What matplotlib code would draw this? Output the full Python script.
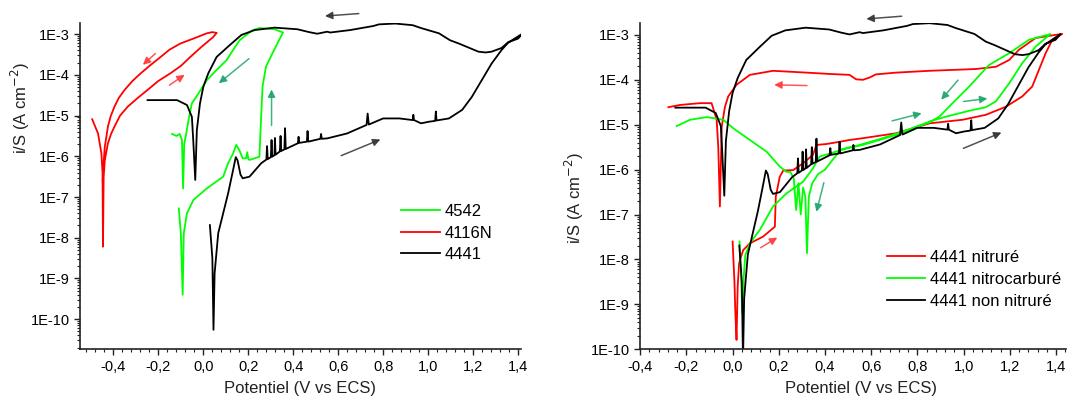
import matplotlib
matplotlib.use("Agg")
import matplotlib.pyplot as plt
import numpy as np
from matplotlib.ticker import MultipleLocator, AutoMinorLocator, LogLocator, FuncFormatter, NullFormatter

plt.rcParams['font.family'] = ['Liberation Sans', 'DejaVu Sans']

# potentials (V vs ECS) and log10 of current density (A cm-2)
# 4441 non nitruré (same curve in both panels): forward scan then reverse scan
black_v = [0.029, 0.04, 0.045, 0.05, 0.066, 0.088, 0.11, 0.132, 0.144, 0.152, 0.165, 0.175, 0.205,
           0.257, 0.28, 0.283, 0.286, 0.30, 0.303, 0.306, 0.316, 0.318, 0.321, 0.34, 0.343, 0.346,
           0.36, 0.363, 0.366, 0.389, 0.42, 0.423, 0.426, 0.46, 0.463, 0.466, 0.52, 0.523, 0.526,
           0.55, 0.638, 0.725, 0.73, 0.735, 0.799, 0.871, 0.93, 0.933, 0.936, 0.967, 1.003, 1.03,
           1.033, 1.036, 1.047, 1.091, 1.15, 1.193, 1.237, 1.281, 1.325, 1.354, 1.42,
           1.398, 1.354, 1.325, 1.281, 1.254, 1.222, 1.135, 1.096, 1.047, 0.967, 0.93, 0.852, 0.78,
           0.755, 0.652, 0.564, 0.55, 0.506, 0.47, 0.418, 0.316, 0.228, 0.169, 0.117, 0.059,
           0.022, 0.0, -0.015, -0.029, -0.036, -0.045, -0.051, -0.073, -0.117, -0.248]
black_logi = [-7.69, -8.5, -10.26, -8.87, -7.89, -7.40, -6.91, -6.34, -6.02, -6.1, -6.45, -6.54, -6.50,
              -6.17, -6.08, -5.75, -6.07, -6.02, -5.6, -6.01, -5.97, -5.55, -5.96, -5.88, -5.5, -5.87,
              -5.83, -5.31, -5.82, -5.76, -5.68, -5.52, -5.67, -5.64, -5.38, -5.64, -5.57, -5.45, -5.57,
              -5.56, -5.44, -5.23, -4.95, -5.22, -5.07, -5.07, -5.11, -4.98, -5.11, -5.19, -5.15, -5.13,
              -4.9, -5.12, -5.11, -5.07, -4.86, -4.54, -4.13, -3.72, -3.39, -3.21, -2.98,
              -3.11, -3.2, -3.34, -3.43, -3.45, -3.43, -3.23, -3.15, -2.98, -2.85, -2.78, -2.74, -2.76,
              -2.80, -2.90, -2.96, -2.94, -2.99, -2.95, -2.88, -2.84, -2.90, -3.02, -3.27, -3.56,
              -3.96, -4.29, -4.70, -5.36, -6.58, -5.6, -5.03, -4.74, -4.62, -4.62]

# 4116N (left panel)
red_l_v = [-0.494, -0.468, -0.453, -0.448, -0.446, -0.443, -0.438, -0.424, -0.41, -0.395, -0.37,
           -0.336, -0.29, -0.248, -0.2, -0.146, -0.1, -0.058, -0.01, 0.044, 0.059,
           0.04, 0.015, -0.04, -0.102, -0.15, -0.19, -0.235, -0.278, -0.315, -0.35, -0.375, -0.395,
           -0.412, -0.424, -0.438, -0.445, -0.447]
red_l_logi = [-5.09, -5.44, -5.93, -6.4, -8.22, -6.5, -6.1, -5.68, -5.45, -5.27, -5.0,
              -4.78, -4.56, -4.37, -4.15, -3.96, -3.78, -3.56, -3.32, -3.07, -2.97,
              -2.95, -2.98, -3.1, -3.23, -3.38, -3.56, -3.76, -3.96, -4.15, -4.37, -4.56, -4.78,
              -5.02, -5.27, -5.77, -6.3, -6.6]

# 4542 (left panel)
green_l_v = [-0.109, -0.1, -0.092, -0.088, -0.087, -0.073, -0.044, 0.015, 0.088, 0.11, 0.132, 0.146,
             0.16, 0.175, 0.19, 0.195, 0.2, 0.205, 0.249, 0.256, 0.263, 0.278, 0.307, 0.336, 0.354,
             0.316, 0.25, 0.219, 0.161, 0.132, 0.103, 0.059, 0.015, -0.022, -0.051, -0.066, -0.076,
             -0.085, -0.09, -0.095, -0.105, -0.12, -0.139]
green_l_logi = [-7.28, -7.9, -9.40, -8.2, -7.89, -7.40, -7.07, -6.79, -6.50, -6.17, -5.93, -5.72,
                -5.85, -6.05, -6.05, -5.9, -6.07, -6.09, -6.01, -5.11, -4.29, -3.80, -3.47, -3.15, -2.96,
                -2.88, -2.85, -2.90, -3.15, -3.39, -3.64, -3.88, -4.13, -4.46, -4.70, -5.11, -5.44,
                -5.7, -6.79, -5.6, -5.45, -5.5, -5.45]

# 4441 nitruré (right panel)
red_r_v = [0.0, 0.008, 0.012, 0.017, 0.022, 0.028, 0.032, 0.046, 0.075, 0.132, 0.183, 0.187, 0.204,
           0.219, 0.262, 0.305, 0.348, 0.363, 0.406, 0.463, 0.506, 0.564, 0.708, 0.852, 0.995, 1.096,
           1.183, 1.254, 1.297, 1.326, 1.355, 1.384, 1.427,
           1.398, 1.312, 1.24, 1.197, 1.14, 1.053, 0.852, 0.708, 0.62, 0.593, 0.564, 0.535, 0.506,
           0.42, 0.319, 0.175, 0.075, 0.017, -0.019, -0.033, -0.047, -0.055, -0.062, -0.069, -0.091,
           -0.141, -0.227, -0.278]
red_r_logi = [-7.60, -8.5, -9.2, -9.79, -8.6, -8.1, -8.01, -7.79, -7.64, -7.49, -7.27, -6.60, -6.16,
              -6.02, -6.01, -5.86, -5.67, -5.45, -5.43, -5.38, -5.34, -5.30, -5.19, -4.97, -4.89, -4.78,
              -4.60, -4.37, -4.15, -3.78, -3.41, -3.11, -2.98,
              -3.0, -3.07, -3.33, -3.56, -3.71, -3.76, -3.80, -3.84, -3.88, -3.95, -4.0, -3.99, -3.89,
              -3.87, -3.84, -3.80, -3.89, -4.11, -4.37, -4.60, -5.04, -6.82, -5.5, -4.89, -4.52,
              -4.52, -4.56, -4.61]

# 4441 nitrocarburé (right panel)
green_r_v = [0.03, 0.036, 0.042, 0.048, 0.055, 0.075, 0.118, 0.175, 0.233, 0.305, 0.348, 0.377, 0.434,
             0.5, 0.564, 0.708, 0.78, 0.852, 0.924, 1.024, 1.096, 1.14, 1.197, 1.254, 1.312, 1.376,
             1.283, 1.197, 1.11, 1.024, 0.952, 0.895, 0.852, 0.794, 0.737, 0.65, 0.55, 0.47, 0.43, 0.4,
             0.37, 0.345, 0.33, 0.322, 0.315, 0.305, 0.295, 0.285, 0.275, 0.265, 0.25, 0.233, 0.204,
             0.147, 0.075, 0.003, -0.04, -0.112, -0.184, -0.242]
green_r_logi = [-7.6, -8.3, -9.2, -8.4, -7.9, -7.64, -7.34, -6.82, -6.53, -6.27, -5.97, -5.71, -5.62,
                -5.52, -5.45, -5.23, -5.08, -4.93, -4.82, -4.69, -4.61, -4.48, -4.08, -3.63, -3.26, -2.98,
                -3.11, -3.41, -3.67, -4.15, -4.52, -4.82, -4.95, -5.05, -5.15, -5.3, -5.45, -5.55, -5.8, -6.0,
                -6.1, -6.3, -6.6, -7.86, -6.6, -6.4, -7.0, -6.3, -6.9, -6.2, -6.05, -6.05, -5.93,
                -5.60, -5.34, -5.08, -4.89, -4.83, -4.89, -5.03]

legend_left = ['4542', '4116N', '4441']
legend_right = ['4441 nitruré', '4441 nitrocarburé', '4441 non nitruré']

RED = '#ff0000'
GREEN = '#00ff00'
BLACK = '#000000'


def style_axis(ax, xlim, ylim):
    ax.set_yscale('log')
    ax.set_xlim(*xlim)
    ax.set_ylim(*ylim)
    for s in ['top', 'right']:
        ax.spines[s].set_visible(False)
    for s in ['left', 'bottom']:
        ax.spines[s].set_linewidth(1.2)
        ax.spines[s].set_color('#222222')
    ax.xaxis.set_major_locator(MultipleLocator(0.2))
    ax.xaxis.set_minor_locator(AutoMinorLocator(5))
    ax.xaxis.set_major_formatter(FuncFormatter(lambda x, p: f"{round(x, 1) + 0:.1f}".replace('.', ',')))
    ax.yaxis.set_major_locator(LogLocator(base=10, numticks=20))
    ax.yaxis.set_minor_locator(LogLocator(base=10, subs=np.arange(2, 10), numticks=20))
    ax.yaxis.set_minor_formatter(NullFormatter())
    ax.yaxis.set_major_formatter(FuncFormatter(lambda y, p: f"1E{int(round(np.log10(y)))}"))
    ax.tick_params(which='major', direction='out', length=4, width=1, labelsize=10.5, color='#222222')
    ax.tick_params(which='minor', direction='out', length=2.2, width=0.8, color='#222222')
    ax.set_xlabel('Potentiel (V vs ECS)', fontsize=12, color='#222222')
    ax.set_ylabel('i/S (A cm$^{-2}$)', fontsize=12, color='#222222')


def curve(ax, v, logi, color, label):
    ax.plot(v, 10 ** np.array(logi), color=color, lw=1.3, label=label)


def arrow(ax, tail, head, color):
    ax.annotate('', xy=(head[0], 10 ** head[1]), xytext=(tail[0], 10 ** tail[1]),
                arrowprops=dict(arrowstyle='-|>', color=color, lw=1.1, mutation_scale=11, alpha=0.85),
                annotation_clip=False)


fig = plt.figure(figsize=(10.67, 3.99), dpi=100)
ax1 = fig.add_axes([0.075, 0.1245, 0.413, 0.8185])
ax2 = fig.add_axes([0.600, 0.1245, 0.399, 0.8185])

# left panel
curve(ax1, green_l_v, green_l_logi, GREEN, legend_left[0])
curve(ax1, red_l_v, red_l_logi, RED, legend_left[1])
curve(ax1, black_v, black_logi, BLACK, legend_left[2])
style_axis(ax1, (-0.548, 1.41), (10 ** -10.74, 10 ** -2.72))
ax1.xaxis.set_label_coords(0.5, -0.098)
ax1.yaxis.set_label_coords(-0.11, 0.74)

arrow(ax1, (-0.204, -3.43), (-0.278, -3.80), '#ff3b3b')
arrow(ax1, (-0.161, -4.29), (-0.073, -3.96), '#ff3b3b')
arrow(ax1, (0.212, -3.56), (0.059, -4.25), '#1fa56e')
arrow(ax1, (0.303, -5.31), (0.303, -4.29), '#1fa56e')
arrow(ax1, (0.703, -2.49), (0.528, -2.56), '#333333')
arrow(ax1, (0.601, -6.01), (0.798, -5.56), '#333333')

ax1.legend(loc='upper left', bbox_to_anchor=(0.376, 0.489), bbox_transform=fig.transFigure,
           frameon=False, fontsize=12, handlelength=2.3, handletextpad=0.3, labelspacing=0.4,
           borderpad=0, borderaxespad=0)

# right panel
curve(ax2, red_r_v, red_r_logi, RED, legend_right[0])
curve(ax2, green_r_v, green_r_logi, GREEN, legend_right[1])
curve(ax2, black_v, black_logi, BLACK, legend_right[2])
style_axis(ax2, (-0.4, 1.443), (1e-10, 10 ** -2.73))
ax2.xaxis.set_label_coords(0.518, -0.098)
ax2.yaxis.set_label_coords(-0.127, 0.463)

arrow(ax2, (0.334, -4.13), (0.168, -4.11), '#ff3b3b')
arrow(ax2, (0.111, -7.77), (0.204, -7.48), '#ff3b3b')
arrow(ax2, (0.744, -2.58), (0.567, -2.65), '#333333')
arrow(ax2, (0.988, -5.55), (1.175, -5.15), '#333333')
arrow(ax2, (0.679, -4.93), (0.83, -4.73), '#1fa56e')
arrow(ax2, (0.988, -4.49), (1.115, -4.41), '#1fa56e')
arrow(ax2, (0.984, -3.96), (0.895, -4.49), '#1fa56e')
arrow(ax2, (0.398, -6.23), (0.36, -7.0), '#1fa56e')

ax2.legend(loc='upper left', bbox_to_anchor=(0.831, 0.373), bbox_transform=fig.transFigure,
           frameon=False, fontsize=12, handlelength=2.3, handletextpad=0.3, labelspacing=0.4,
           borderpad=0, borderaxespad=0)

fig.savefig('out.png', dpi=100)
